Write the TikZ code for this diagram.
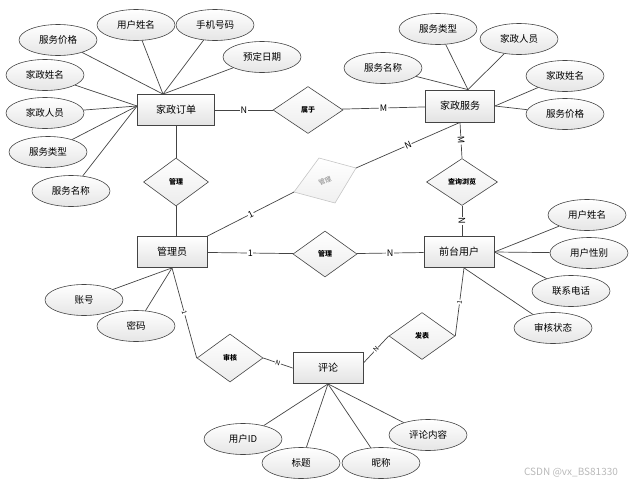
\documentclass[tikz,border=0pt]{standalone}
\usepackage{fontspec}
\setmainfont{Noto Sans CJK SC}
\usetikzlibrary{shapes.geometric,positioning}
\definecolor{edgegray}{HTML}{444444}
\tikzset{
	entity/.style={draw=edgegray,line width=.8pt,top color=white,bottom color=gray!22,
		minimum width=70pt,minimum height=31pt,font=\fontsize{10}{12}\selectfont},
	attr/.style={ellipse,draw=edgegray,line width=.6pt,top color=white,bottom color=gray!20,
		minimum width=78pt,minimum height=31pt,inner sep=0pt,font=\fontsize{9.5}{11}\selectfont},
	rel/.style={diamond,draw=edgegray,line width=.6pt,top color=white,bottom color=gray!15,
		minimum width=66pt,minimum height=47pt,inner sep=0pt,aspect=1.4,font=\fontsize{7}{8}\selectfont\bfseries},
	conn/.style={draw=edgegray,line width=.7pt},
	card/.style={fill=white,inner sep=.6pt,font=\fontsize{9}{10}\selectfont},
	smallcard/.style={card,font=\fontsize{6.5}{7}\selectfont},
}
\begin{document}
\begin{tikzpicture}[x=1pt,y=-1pt]
	\useasboundingbox (0,0) rectangle (633,485);
	
	% entities
	\node[entity,minimum width=77pt] (order) at (176,110) {家政订单};
	\node[entity,minimum width=69pt,minimum height=32pt] (service) at (460,106) {家政服务};
	\node[entity] (admin) at (172,252) {管理员};
	\node[entity] (user) at (459,252) {前台用户};
	\node[entity] (comment) at (328,368) {评论};
	
	% relations
	\node[rel,minimum width=70pt] (belong) at (308,110) {属于};
	\node[rel,minimum width=65pt,minimum height=48pt] (manord) at (176,182) {管理};
	\node[rel,minimum width=64pt,minimum height=46pt] (manuser) at (325,254) {管理};
	\node[rel,minimum width=71pt] (browse) at (462,182) {查询浏览};
	\node[rel,minimum height=48pt] (audit) at (230,358) {审核};
	\node[rel] (post) at (422,336) {发表};
	
	% the faded one, tilted
	\coordinate (gl) at (294,192);
	\coordinate (gt) at (319,158);
	\coordinate (gr) at (356,168);
	\coordinate (gb) at (335,203);
	\draw[draw=gray!45,line width=.6pt,top color=white,bottom color=gray!12] (gl) -- (gt) -- (gr) -- (gb) -- cycle;
	\node[text=gray,rotate=25,inner sep=0pt,font=\fontsize{6.5}{7}\selectfont] (mangrey) at (325,181) {管理};
	
	% attributes of 家政订单
	\node[attr] (oprice) at (58,40) {服务价格};
	\node[attr] (ouname) at (136,25) {用户姓名};
	\node[attr] (ophone) at (215,25) {手机号码};
	\node[attr] (odate) at (262,57) {预定日期};
	\node[attr] (ohname) at (45,75) {家政姓名};
	\node[attr] (ostaff) at (45,113) {家政人员};
	\node[attr] (otype) at (48,152) {服务类型};
	\node[attr] (osname) at (71,191) {服务名称};
	
	% attributes of 家政服务
	\node[attr] (stype) at (438,29) {服务类型};
	\node[attr] (sstaff) at (519,39) {家政人员};
	\node[attr] (ssname) at (383,68) {服务名称};
	\node[attr] (shname) at (565,76) {家政姓名};
	\node[attr] (sprice) at (565,114) {服务价格};
	
	% attributes of 管理员
	\node[attr] (acct) at (84,300) {账号};
	\node[attr] (pwd) at (136,326) {密码};
	
	% attributes of 前台用户
	\node[attr] (uname) at (587,215) {用户姓名};
	\node[attr] (usex) at (589,253) {用户性别};
	\node[attr] (utel) at (571,291) {联系电话};
	\node[attr] (ustate) at (553,328) {审核状态};
	
	% attributes of 评论
	\node[attr] (cid) at (243,439) {用户ID};
	\node[attr] (ctitle) at (301,463) {标题};
	\node[attr] (cnick) at (381,463) {昵称};
	\node[attr] (ctext) at (428,435) {评论内容};
	
	\coordinate (ordtop) at ([xshift=-13pt]order.north);
	\coordinate (ordleft) at ([yshift=4pt]order.west);
	\coordinate (srvtop) at ([xshift=8pt]service.north);
	\coordinate (userbot) at ([xshift=5pt]user.south);
	
	\foreach \a in {oprice,ouname,ophone,odate}
		\draw[conn] (\a) -- (ordtop);
	\foreach \a in {ohname,ostaff,otype,osname}
		\draw[conn] (\a) -- (ordleft);
	\foreach \a in {stype,sstaff,ssname}
		\draw[conn] (\a) -- (srvtop);
	\foreach \a in {shname,sprice}
		\draw[conn] (\a) -- (service.east);
	\foreach \a in {acct,pwd}
		\draw[conn] (\a) -- (admin.south);
	\foreach \a in {uname,usex,utel}
		\draw[conn] (\a) -- (user.east);
	\draw[conn] (ustate) -- (userbot);
	\foreach \a in {cid,ctitle,cnick,ctext}
		\draw[conn] (\a) -- (comment.south);
	
	% relation lines
	\draw[conn] (order) -- node[card] {N} (belong);
	\draw[conn] (belong) -- node[card] {M} (service);
	\draw[conn] (order.south) -- (manord.north);
	\draw[conn] (manord.south) -- (manord.south |- admin.north);
	\draw[conn] (admin) -- node[card] {1} (manuser);
	\draw[conn] (manuser) -- node[card] {N} (user);
	\draw[conn] (service.south) -- node[card,sloped] {M} (browse.north);
	\draw[conn] (browse.south) -- node[card,sloped] {N} (browse.south |- user.north);
	\draw[conn] (admin.north east) -- node[card,sloped] {1} (gl);
	\draw[conn] (gr) -- node[card,sloped] {N} (service.south);
	\draw[conn] (admin.south) -- node[smallcard,sloped] {1} (audit.west);
	\draw[conn] (audit.east) -- node[smallcard,sloped] {N} (comment.west);
	\draw[conn] ([yshift=5pt]comment.east) -- node[smallcard,sloped] {N} (post.west);
	\draw[conn] (post.east) -- node[smallcard,sloped] {1} (userbot);
	
	\node[text=gray!55,font=\fontsize{10}{11}\selectfont] (mark) at (571,473) {CSDN @vx\_BS81330};
\end{tikzpicture}
\end{document}
